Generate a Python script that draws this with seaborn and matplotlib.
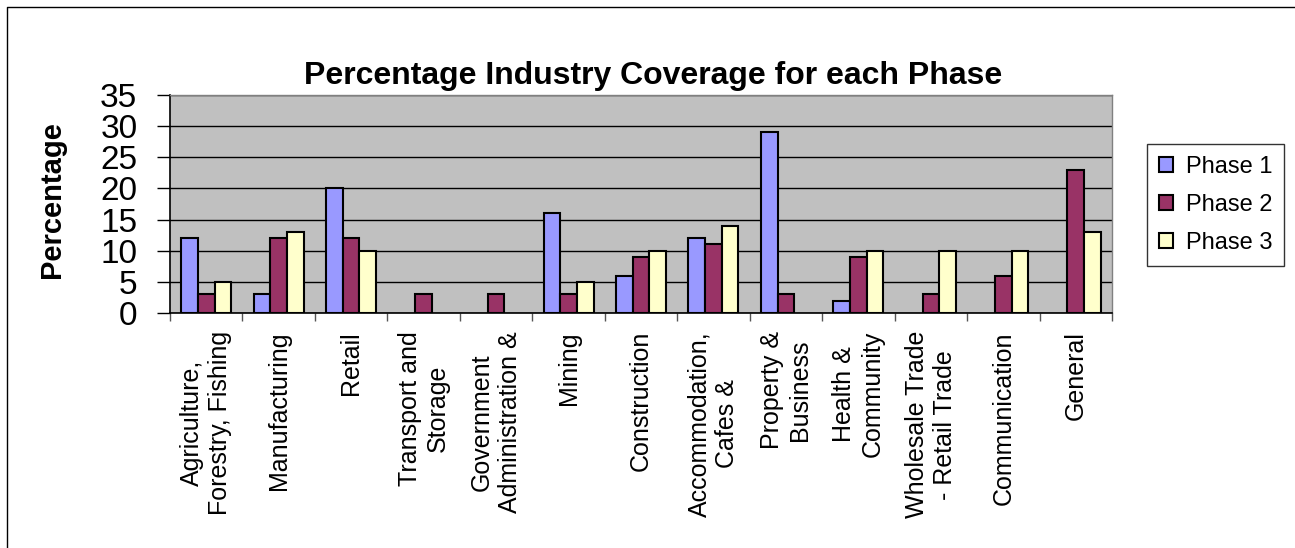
import numpy as np
import pandas as pd
import matplotlib
matplotlib.use("Agg")
import matplotlib.pyplot as plt
from matplotlib.lines import Line2D
import seaborn as sns

industries = [
    "Agriculture,\nForestry, Fishing",
    "Manufacturing",
    "Retail",
    "Transport and\nStorage",
    "Government\nAdministration &",
    "Mining",
    "Construction",
    "Accommodation,\nCafes &",
    "Property &\nBusiness",
    "Health &\nCommunity",
    "Wholesale Trade\n- Retail Trade",
    "Communication",
    "General",
]
phases = ["Phase 1", "Phase 2", "Phase 3"]
phase1 = [12, 3, 20, 0, 0, 16, 6, 12, 29, 2, 0, 0, 0]
phase2 = [3, 12, 12, 3, 3, 3, 9, 11, 3, 9, 3, 6, 23]
phase3 = [5, 13, 10, 0, 0, 5, 10, 14, 0, 10, 10, 10, 13]
colors = ["#9999FF", "#993366", "#FFFFCC"]
y_ticks = [0, 5, 10, 15, 20, 25, 30, 35]

rows = []
for ph, vals in zip(phases, [phase1, phase2, phase3]):
    for ind, v in zip(industries, vals):
        rows.append({"Industry": ind, "Phase": ph, "Percentage": v})
df = pd.DataFrame(rows)
df_plot = df[df["Percentage"] > 0]

sns.set_style("white")
plt.rcParams["font.family"] = ["Liberation Sans", "DejaVu Sans"]
plt.rcParams["text.color"] = "black"
plt.rcParams["axes.labelcolor"] = "black"
plt.rcParams["xtick.color"] = "black"
plt.rcParams["ytick.color"] = "black"

W, H = 1295, 548
fig = plt.figure(figsize=(W / 100, H / 100), dpi=100)
L, R, T, B = 170, 1112, 95, 313
ax = fig.add_axes([L / W, 1 - B / H, (R - L) / W, (B - T) / H])
ax.set_facecolor("#C0C0C0")

sns.barplot(data=df_plot, x="Industry", y="Percentage", hue="Phase",
            order=industries, hue_order=phases, palette=colors,
            width=0.69, edgecolor="black", linewidth=1.5, ax=ax,
            saturation=1, errorbar=None)

ax.set_xlim(-0.5, len(industries) - 0.5)
ax.set_ylim(0, 35)
ax.set_yticks(y_ticks)
ax.yaxis.grid(True, color="black", linewidth=1)
ax.set_axisbelow(True)
ax.xaxis.grid(False)

ax.set_xticks(range(len(industries)))
ax.set_xticklabels(industries, rotation=90, fontsize=18, va="top", ha="center",
                   multialignment="center", color="black")
ax.set_xticks(np.arange(-0.5, len(industries), 1), minor=True)
ax.tick_params(axis="x", which="major", length=0, pad=13)
ax.tick_params(axis="x", which="minor", length=6, width=1, color="#555555",
               direction="out", bottom=True)
ax.tick_params(axis="y", which="major", length=9.5, width=1, color="black",
               direction="out", left=True, labelsize=24, pad=14,
               labelcolor="black")

ax.set_xlabel("")
ax.set_ylabel("Percentage", fontsize=21, fontweight="bold", color="black")
ax.yaxis.label.set_va("center")
ax.yaxis.set_label_coords(-0.125, 0.52)

for side in ["top", "right"]:
    ax.spines[side].set_color("#808080")
    ax.spines[side].set_linewidth(1)
for side in ["left", "bottom"]:
    ax.spines[side].set_color("black")
    ax.spines[side].set_linewidth(1.2)

fig.text(653 / W, 1 - 76 / H, "Percentage Industry Coverage for each Phase",
         ha="center", va="center", fontsize=23, fontweight="bold",
         color="black")

sns.move_legend(ax, loc="upper left",
                bbox_to_anchor=(1147 / W, 1 - 144 / H),
                bbox_transform=fig.transFigure, title=None, frameon=True,
                fontsize=17, handlelength=0.6, handleheight=0.6,
                handletextpad=0.55, labelspacing=0.68, borderpad=0.5,
                borderaxespad=0, fancybox=False, edgecolor="black")
leg = ax.get_legend()
leg.get_frame().set_linewidth(1)
for t in leg.get_texts():
    t.set_color("black")
for h in leg.legend_handles:
    h.set_edgecolor("black")
    h.set_linewidth(1.5)

# outer chart border (left and top edges visible in the crop)
fig.add_artist(Line2D([7 / W, 7 / W, 1.0], [0.0, 1 - 7 / H, 1 - 7 / H],
                      transform=fig.transFigure, color="black", linewidth=1))

fig.savefig("out.png", dpi=100)
